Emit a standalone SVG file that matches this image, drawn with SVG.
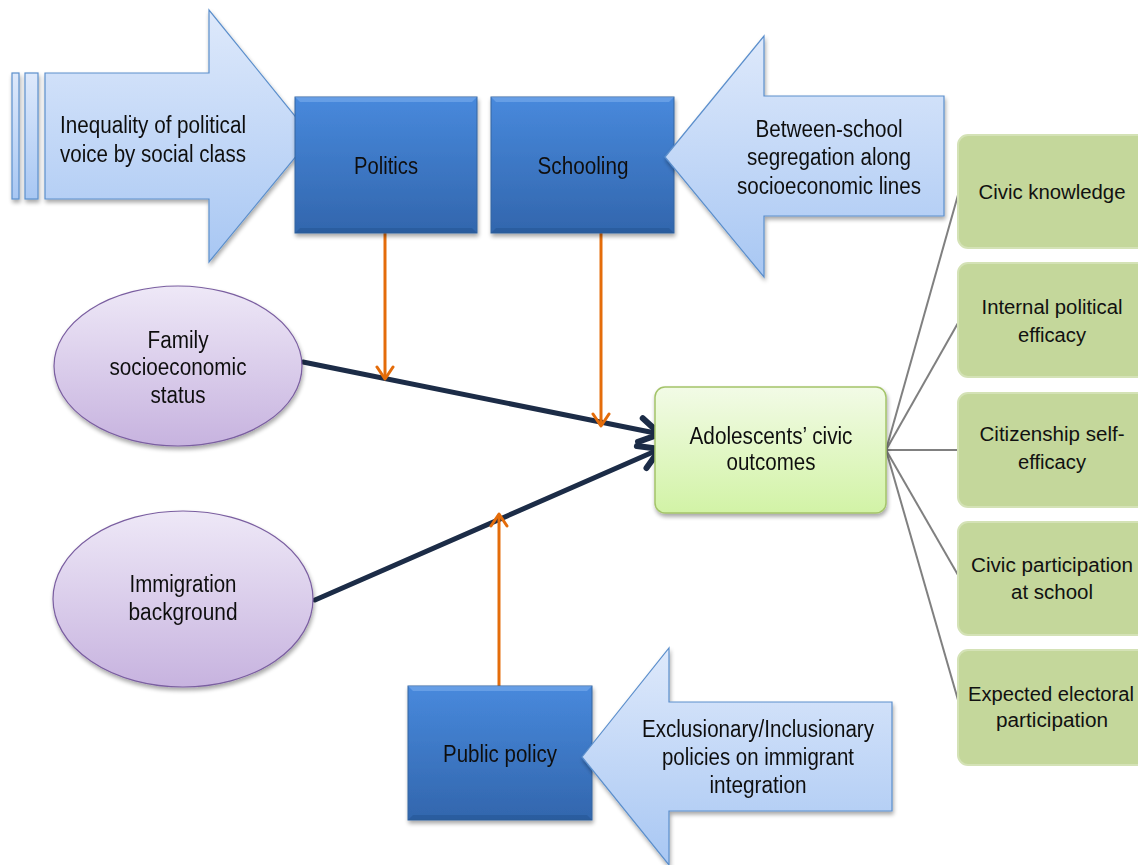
<svg xmlns="http://www.w3.org/2000/svg" width="1138" height="865" viewBox="0 0 1138 865">
<defs>
<linearGradient id="gBlue" x1="0" y1="0" x2="0" y2="1"><stop offset="0" stop-color="#4889dc"/><stop offset="1" stop-color="#3266ad"/></linearGradient>
<linearGradient id="gLight" x1="0" y1="0" x2="0" y2="1"><stop offset="0" stop-color="#dee9fb"/><stop offset="1" stop-color="#a8c7f3"/></linearGradient>
<linearGradient id="gPurple" x1="0" y1="0" x2="0" y2="1"><stop offset="0" stop-color="#eee8f7"/><stop offset="1" stop-color="#c7b3df"/></linearGradient>
<linearGradient id="gLime" x1="0" y1="0" x2="0" y2="1"><stop offset="0" stop-color="#f2fbe6"/><stop offset="1" stop-color="#d2f3a6"/></linearGradient>
<filter id="sh" x="-10%" y="-10%" width="125%" height="130%"><feGaussianBlur in="SourceAlpha" stdDeviation="2"/><feOffset dx="1" dy="3"/><feComponentTransfer><feFuncA type="linear" slope="0.35"/></feComponentTransfer><feMerge><feMergeNode/><feMergeNode in="SourceGraphic"/></feMerge></filter>
<marker id="mNavy" markerUnits="userSpaceOnUse" viewBox="-26 -16 30 32" refX="0" refY="0" markerWidth="30" markerHeight="32" orient="auto"><polyline points="-20,-12 0,0 -20,12" fill="none" stroke="#1c2c47" stroke-width="6" stroke-linecap="round" stroke-linejoin="round"/></marker>
<marker id="mOrange" markerUnits="userSpaceOnUse" viewBox="-16 -10 18 20" refX="0" refY="0" markerWidth="18" markerHeight="20" orient="auto"><polyline points="-12,-8 0,0 -12,8" fill="none" stroke="#e46c0a" stroke-width="3" stroke-linecap="round" stroke-linejoin="round"/></marker>
<style>
text{font-family:"Liberation Sans",Arial,sans-serif;font-size:23px;fill:#111;text-anchor:middle}
.lt{text-anchor:start}
.gt{font-size:20px}
.blue{fill:url(#gBlue);stroke:#35659f;stroke-width:1}
.bevT{fill:#7fb0ee;opacity:0.55}
.bevB{fill:#1f4a85;opacity:0.35}
.light{fill:url(#gLight);stroke:#5c8fcc;stroke-width:1.2}
.purple{fill:url(#gPurple);stroke:#7a5ea0;stroke-width:1.2}
.green{fill:#c4d79b;stroke:#d4e2b6;stroke-width:2}
.fan{stroke:#808080;stroke-width:2;fill:none}
.navy{stroke:#1c2c47;stroke-width:5;fill:none;stroke-linecap:round}
.orange{stroke:#e46c0a;stroke-width:3;fill:none}
</style>
</defs>

<g id="connectors">
<line class="fan" x1="886" y1="450" x2="958" y2="195"/>
<line class="fan" x1="886" y1="450" x2="958" y2="323"/>
<line class="fan" x1="886" y1="450" x2="958" y2="450"/>
<line class="fan" x1="886" y1="450" x2="958" y2="575"/>
<line class="fan" x1="886" y1="450" x2="958" y2="700"/>
<line class="navy" x1="303" y1="362" x2="660" y2="434" marker-end="url(#mNavy)"/>
<line class="navy" x1="315" y1="600" x2="660" y2="449" marker-end="url(#mNavy)"/>
<line class="orange" x1="385" y1="233" x2="385" y2="379" marker-end="url(#mOrange)"/>
<line class="orange" x1="601" y1="233" x2="601" y2="426" marker-end="url(#mOrange)"/>
<line class="orange" x1="499" y1="686" x2="499" y2="514" marker-end="url(#mOrange)"/>
</g>

<g id="inequality" filter="url(#sh)">
<rect class="light" x="12" y="73" width="7" height="126"/>
<rect class="light" x="25" y="73" width="13" height="126"/>
<polygon class="light" points="45,73 209,73 209,10 312,137 209,262 209,199 45,199"/>
<text class="lt" x="60" y="133" textLength="186" lengthAdjust="spacingAndGlyphs">Inequality of political</text>
<text class="lt" x="60" y="162" textLength="186" lengthAdjust="spacingAndGlyphs">voice by social class</text>
</g>

<g id="politics" filter="url(#sh)">
<rect class="blue" x="295" y="97" width="182" height="136"/>
<polygon class="bevT" points="295,97 477,97 472,102 300,102"/>
<polygon class="bevB" points="295,233 477,233 472,228 300,228"/>
<text x="386" y="174" textLength="64" lengthAdjust="spacingAndGlyphs">Politics</text>
</g>

<g id="schooling" filter="url(#sh)">
<rect class="blue" x="491" y="97" width="183" height="136"/>
<polygon class="bevT" points="491,97 674,97 669,102 496,102"/>
<polygon class="bevB" points="491,233 674,233 669,228 496,228"/>
<text x="583" y="174" textLength="91" lengthAdjust="spacingAndGlyphs">Schooling</text>
</g>

<g id="segregation" filter="url(#sh)">
<polygon class="light" points="665,157 764,36 764,96 944,96 944,216 764,216 764,277"/>
<text x="829" y="137" textLength="147" lengthAdjust="spacingAndGlyphs">Between-school</text>
<text x="829" y="165" textLength="164" lengthAdjust="spacingAndGlyphs">segregation along</text>
<text x="829" y="194" textLength="184" lengthAdjust="spacingAndGlyphs">socioeconomic lines</text>
</g>

<g id="family" filter="url(#sh)">
<ellipse class="purple" cx="178" cy="366" rx="124" ry="80"/>
<text x="178" y="348" textLength="61" lengthAdjust="spacingAndGlyphs">Family</text>
<text x="178" y="375" textLength="137" lengthAdjust="spacingAndGlyphs">socioeconomic</text>
<text x="178" y="403" textLength="55" lengthAdjust="spacingAndGlyphs">status</text>
</g>

<g id="immigration" filter="url(#sh)">
<ellipse class="purple" cx="183" cy="599" rx="130" ry="88"/>
<text x="183" y="592" textLength="107" lengthAdjust="spacingAndGlyphs">Immigration</text>
<text x="183" y="620" textLength="109" lengthAdjust="spacingAndGlyphs">background</text>
</g>

<g id="outcomes" filter="url(#sh)">
<rect x="655" y="387" width="231" height="126" rx="10" fill="url(#gLime)" stroke="#a4c46a" stroke-width="1.5"/>
<text x="771" y="444" textLength="163" lengthAdjust="spacingAndGlyphs">Adolescents’ civic</text>
<text x="771" y="470" textLength="89" lengthAdjust="spacingAndGlyphs">outcomes</text>
</g>

<g id="publicpolicy" filter="url(#sh)">
<rect class="blue" x="408" y="686" width="184" height="134"/>
<polygon class="bevT" points="408,686 592,686 587,691 413,691"/>
<polygon class="bevB" points="408,820 592,820 587,815 413,815"/>
<text x="500" y="762" textLength="114" lengthAdjust="spacingAndGlyphs">Public policy</text>
</g>

<g id="exclusionary" filter="url(#sh)">
<polygon class="light" points="582,757 669,648 669,702 892,702 892,811 669,811 669,865"/>
<text x="758" y="737" textLength="232" lengthAdjust="spacingAndGlyphs">Exclusionary/Inclusionary</text>
<text x="758" y="765" textLength="192" lengthAdjust="spacingAndGlyphs">policies on immigrant</text>
<text x="758" y="793" textLength="97" lengthAdjust="spacingAndGlyphs">integration</text>
</g>

<g id="civicknowledge">
<rect class="green" x="958" y="135" width="190" height="113" rx="10"/>
<text class="gt" x="1052" y="199" textLength="147" lengthAdjust="spacingAndGlyphs">Civic knowledge</text>
</g>
<g id="efficacy">
<rect class="green" x="958" y="263" width="190" height="114" rx="10"/>
<text class="gt" x="1052" y="314" textLength="141" lengthAdjust="spacingAndGlyphs">Internal political</text>
<text class="gt" x="1052" y="342" textLength="68" lengthAdjust="spacingAndGlyphs">efficacy</text>
</g>
<g id="selfefficacy">
<rect class="green" x="958" y="393" width="190" height="114" rx="10"/>
<text class="gt" x="1052" y="441" textLength="145" lengthAdjust="spacingAndGlyphs">Citizenship self-</text>
<text class="gt" x="1052" y="469" textLength="68" lengthAdjust="spacingAndGlyphs">efficacy</text>
</g>
<g id="participation">
<rect class="green" x="958" y="522" width="190" height="113" rx="10"/>
<text class="gt" x="1052" y="572" textLength="162" lengthAdjust="spacingAndGlyphs">Civic participation</text>
<text class="gt" x="1052" y="599" textLength="82" lengthAdjust="spacingAndGlyphs">at school</text>
</g>
<g id="electoral">
<rect class="green" x="958" y="650" width="190" height="115" rx="10"/>
<text class="gt" x="1051" y="701" textLength="166" lengthAdjust="spacingAndGlyphs">Expected electoral</text>
<text class="gt" x="1052" y="727" textLength="112" lengthAdjust="spacingAndGlyphs">participation</text>
</g>
</svg>
